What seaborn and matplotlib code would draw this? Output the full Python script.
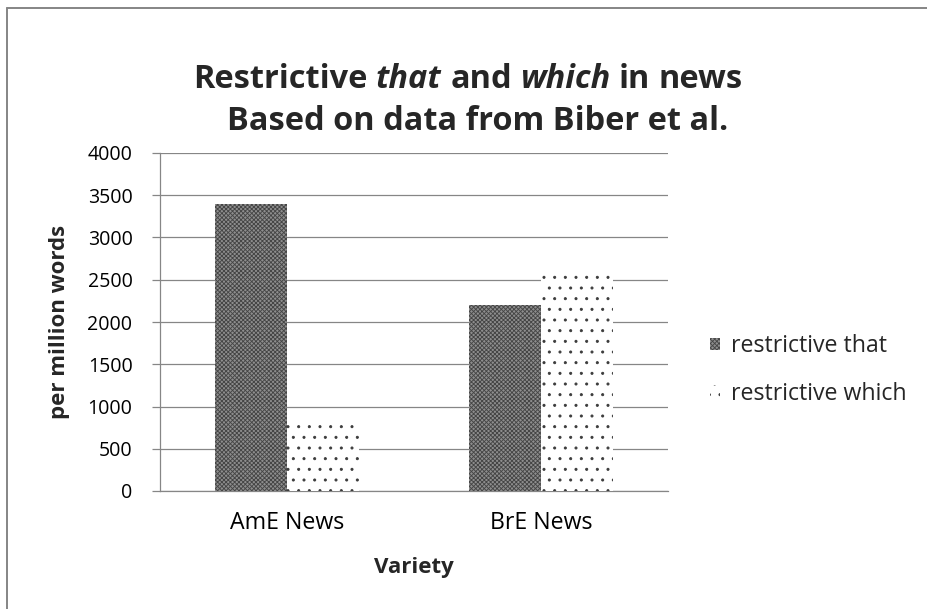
import matplotlib
matplotlib.use("Agg")
import matplotlib.pyplot as plt
from matplotlib.lines import Line2D
from matplotlib.patches import Patch
import seaborn as sns
import pandas as pd

# Frequencies of restrictive relativisers (per million words)
varieties = ["AmE News", "BrE News"]
series_names = ["restrictive that", "restrictive which"]
that_values = [3400, 2200]
which_values = [800, 2600]
y_ticks = [0, 500, 1000, 1500, 2000, 2500, 3000, 3500, 4000]

df = pd.DataFrame({
    "Variety": varieties * 2,
    "Relative": [series_names[0]] * 2 + [series_names[1]] * 2,
    "value": that_values + which_values,
})

sns.set_theme(style="white")
plt.rcParams["font.family"] = ["Open Sans", "DejaVu Sans"]
plt.rcParams["hatch.linewidth"] = 1.0

DPI = 64
W, H = 927, 609
fig = plt.figure(figsize=(W / DPI, H / DPI), dpi=DPI, facecolor="white")
ax = fig.add_axes([160 / W, 1 - 491 / H, 508 / W, 338 / H])

GRID = "#868686"
fills = {series_names[0]: "#8e8e8e", series_names[1]: "white"}
hatches = {series_names[0]: "xxxxx", series_names[1]: "."}
hatch_cols = {series_names[0]: "#454545", series_names[1]: "#3a3a3a"}

sns.barplot(data=df, x="Variety", y="value", hue="Relative",
            hue_order=series_names, palette=fills, saturation=1,
            width=0.57, legend=False, ax=ax, zorder=3)

for name, cont in zip(series_names, ax.containers):
    for bar in cont:
        bar.set_hatch(hatches[name])
        bar.set_edgecolor(hatch_cols[name])
        bar.set_linewidth(0)

ax.set_ylim(0, 4000)
ax.set_yticks(y_ticks)
ax.set_xlim(-0.5, 1.5)
ax.yaxis.grid(True, color=GRID, linewidth=1.4, zorder=0)
ax.set_axisbelow(True)
for s in ["top", "right"]:
    ax.spines[s].set_visible(False)
for s in ["left", "bottom"]:
    ax.spines[s].set_color(GRID)
    ax.spines[s].set_linewidth(1.4)
ax.tick_params(axis="y", left=True, length=9, width=1.4, color=GRID,
               pad=22, labelsize=22, labelcolor="black")
ax.tick_params(axis="x", bottom=False, length=0, pad=22,
               labelsize=26, labelcolor="black")
ax.set_xlabel("")
ax.set_ylabel("")

fig.text(60 / W, 1 - 322 / H, "per million words", rotation=90,
         ha="center", va="center", fontsize=25, fontweight="bold")
fig.text(413.5 / W, 1 - 567 / H, "Variety", ha="center", va="center",
         fontsize=25, fontweight="bold")

# Title: first line mixes bold and bold-italic words
TITLE_SIZE = 36.5
line1 = [("Restrictive", "normal"), ("that", "italic"), ("and", "normal"),
         ("which", "italic"), ("in", "normal"), ("news", "normal")]
cx = 468
y1 = 1 - 79 / H
texts = [fig.text(0, y1, w, fontsize=TITLE_SIZE, fontweight="bold",
                  style=st, va="center", ha="left") for w, st in line1]
probe_a = fig.text(0, 0, "aa", fontsize=TITLE_SIZE, fontweight="bold")
probe_b = fig.text(0, 0, "a a", fontsize=TITLE_SIZE, fontweight="bold")
fig.canvas.draw()
r = fig.canvas.get_renderer()
space = probe_b.get_window_extent(r).width - probe_a.get_window_extent(r).width
probe_a.remove()
probe_b.remove()
widths = [t.get_window_extent(r).width for t in texts]
total = sum(widths) + space * (len(widths) - 1)
x = cx - total / 2
for t, w in zip(texts, widths):
    t.set_position((x / W, y1))
    x += w + space

fig.text(478 / W, 1 - 121 / H, "Based on data from Biber et al.",
         fontsize=TITLE_SIZE, fontweight="bold", ha="center", va="center")

handles = [Patch(facecolor=fills[n], hatch=hatches[n], edgecolor=hatch_cols[n],
                 linewidth=0) for n in series_names]
fig.legend(handles, series_names, loc="center left",
           bbox_to_anchor=(710 / W, 1 - 370 / H), frameon=False,
           fontsize=26, handlelength=0.42, handleheight=0.42,
           handletextpad=0.5, labelspacing=1.0, borderaxespad=0, borderpad=0)

# Chart frame (left and top edges)
fig.add_artist(Line2D([7 / W, 7 / W], [0, 1 - 8 / H], color=GRID, linewidth=2.2))
fig.add_artist(Line2D([7 / W, 1], [1 - 8 / H, 1 - 8 / H], color=GRID, linewidth=2.2))

fig.savefig("out.png", dpi=DPI, facecolor="white")
